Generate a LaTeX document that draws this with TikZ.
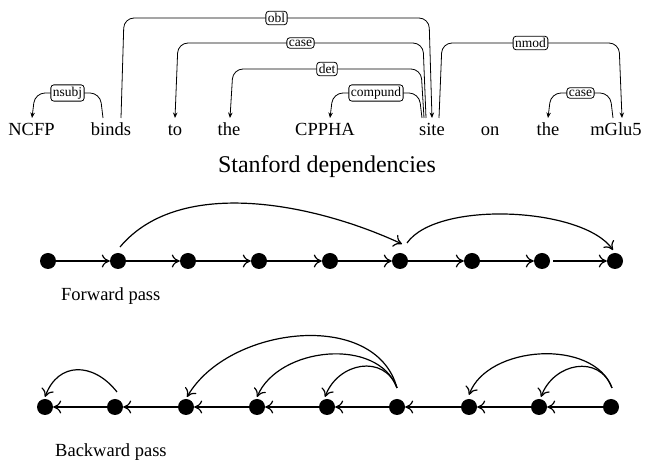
\documentclass[tikz,border=0pt]{standalone}
\usepackage{fontspec}
\setmainfont{Liberation Serif}
\usetikzlibrary{arrows.meta,calc}

\tikzset{
  word/.style={anchor=base,inner sep=0pt,font=\fontsize{18.5}{22}\selectfont},
  lab/.style={draw,fill=white,rounded corners=3pt,inner sep=2pt,line width=0.8pt,
              font=\fontsize{13.5}{15}\selectfont},
  dep/.style={line width=0.8pt,rounded corners=10pt,-{Stealth[length=5.5pt,width=4.5pt]}},
  dot/.style={circle,fill=black,minimum size=16pt,inner sep=0pt},
  gar/.style={line width=1.2pt,-{To[length=8pt,width=13pt]}},
  caption/.style={anchor=base west,inner sep=0pt,font=\fontsize{18.5}{22}\selectfont},
}

% dependency arc: from node, x offset, to node, x offset, level, label, slant
\newcommand\deparc[7]{%
  \draw[dep] let \p1=($(#1.base)+(#2,18)$), \p2=($(#3.base)+(#4,18)$) in
    (\p1) -- (\x1+#7pt,#5pt) -- node[lab]{#6} (\x2-#7pt,#5pt) -- (\p2);}

\begin{document}
\begin{tikzpicture}[x=1pt,y=1pt]
\useasboundingbox (0,0) rectangle (646,463);

% sentence
\node[word] (NCFP)  at (31.5,327) {NCFP};
\node[word] (binds) at (111,327) {binds};
\node[word] (to)    at (175,327) {to};
\node[word] (theA)  at (229,327) {the};
\node[word] (CPPHA) at (325,327) {CPPHA};
\node[word] (site)  at (432,327) {site};
\node[word] (on)    at (490,327) {on};
\node[word] (theB)  at (548,327) {the};
\node[word] (mGlu)  at (616,327) {mGlu5};

% dependency arcs
\deparc{binds}{-8}{NCFP}{0.5}{370}{nsubj}{-3}
\deparc{binds}{10}{site}{0}{445}{obl}{3}
\deparc{site}{-6}{to}{0}{420}{case}{-3}
\deparc{site}{-8}{theA}{1}{394}{det}{-3}
\deparc{site}{-10}{CPPHA}{5}{370}{compund}{-3}
\deparc{site}{7}{mGlu}{6}{420}{nmod}{3}
\deparc{mGlu}{-3}{theB}{0}{370}{case}{-3}

\node[anchor=base,inner sep=0pt,font=\fontsize{24}{28}\selectfont] (stanford) at (327,290) {Stanford dependencies};

% forward pass
\foreach \i/\x in {1/48,2/118,3/188,4/259,5/330,6/400,7/472,8/542,9/615}
  \node[dot] (f\i) at (\x,202) {};
\foreach \a/\b in {1/2,2/3,3/4,4/5,5/6,6/7,7/8}
  \draw[gar] (f\a) -- (f\b);
\draw[gar,shorten <=3pt] (f8) -- (f9);
\draw[gar] ($(f2)+(2,14)$) to[out=50,in=155,looseness=0.85] ($(f6)+(2,17)$);
\draw[gar] ($(f6)+(7,18)$) to[out=55,in=125,looseness=0.65] ($(f9)+(-2,11)$);
\node[caption] (fwd) at (61,162) {Forward pass};

% backward pass
\foreach \i/\x in {1/45,2/115,3/186,4/257,5/327,6/397,7/469,8/539,9/611}
  \node[dot] (b\i) at (\x,56) {};
\foreach \a/\b in {2/1,3/2,4/3,5/4,6/5,7/6,8/7,9/8}
  \draw[gar] (b\a) -- (b\b);
\draw[gar] ($(b2)+(2,15)$) to[out=128,in=70,looseness=1.35] ($(b1)+(0,10)$);
\draw[gar] ($(b6)+(0,19)$) to[out=105,in=60,looseness=1] ($(b3)+(1,10)$);
\draw[gar] ($(b6)+(0,19)$) to[out=110,in=67,looseness=1] ($(b4)+(0,10)$);
\draw[gar] ($(b6)+(0,19)$) to[out=110,in=70,looseness=1.3] ($(b5)+(-2,10)$);
\draw[gar] ($(b9)+(1,19)$) to[out=110,in=70,looseness=0.95] ($(b7)+(0,12)$);
\draw[gar] ($(b9)+(1,19)$) to[out=110,in=70,looseness=1.3] ($(b8)+(2,10)$);
\node[caption] (bwd) at (55,6) {Backward pass};
\end{tikzpicture}
\end{document}
